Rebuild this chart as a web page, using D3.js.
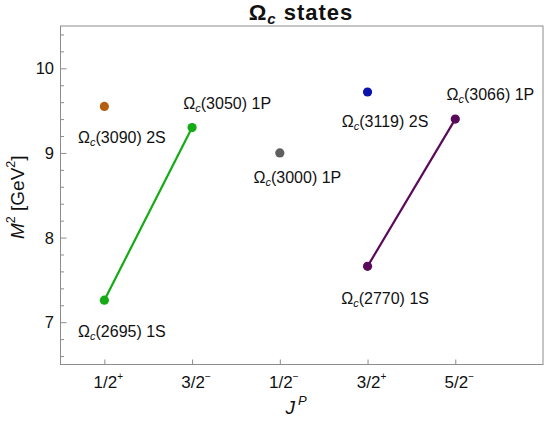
<!DOCTYPE html>
<html><head><meta charset="utf-8">
<script src="https://cdn.jsdelivr.net/npm/d3@7"></script>
<style>body{margin:0;background:#fff}svg{display:block}text{font-family:"Liberation Sans",Arial,sans-serif}</style>
</head><body><svg id="c" width="545" height="422"></svg>
<script>
// categories and tick labels
const jpCats = ["1/2", "3/2", "1/2", "3/2", "5/2"];
const jpSigns = ["+", "−", "−", "+", "−"];
const yTicks = [7, 8, 9, 10];
// states
const stateNames = ["3090", "3050", "2695", "3000", "3119", "3066", "2770"];
const stateWaves = ["2S", "1P", "1S", "1P", "2S", "1P", "1S"];
const stateX = [1, 2, 1, 3, 4, 5, 4];
const stateM2 = [9.55, 9.30, 7.26, 9.00, 9.72, 9.40, 7.66];
const stateColors = ["#b35e10", "#14ab14", "#14ab14", "#5f5f5f", "#0a12aa", "#5a0a5a", "#5a0a5a"];
// label anchors (data coordinates)
const labelX = [1.2, 2.4, 1.2, 3.2, 4.2, 5.4, 4.2];
const labelY = [9.19, 9.59, 6.89, 8.71, 9.37, 9.69, 7.28];
// trajectories (index pairs of states)
const trajectories = [[2, 1], [6, 5]];

const svg = d3.select("#c");
const L = 60.5, R = 543, T = 26, B = 364.5;
const x = d3.scaleLinear().domain([0.5, 6]).range([L, R]);
const y = d3.scaleLinear().domain([6.5, 10.5]).range([B, T]);
const axisCol = "#8c8c8c";

// frame
svg.append("rect").attr("x", L).attr("y", T).attr("width", R - L).attr("height", B - T)
  .attr("fill", "none").attr("stroke", axisCol).attr("stroke-width", 1);

// y axis ticks (inside)
const yMinor = d3.range(6.6, 10.45, 0.2).filter(v => Math.abs(v - Math.round(v)) > 0.01);
const gy = svg.append("g").attr("transform", `translate(${L},0)`);
gy.call(d3.axisRight(y).tickValues(yTicks).tickSize(6).tickFormat(""));
gy.append("g").call(d3.axisRight(y).tickValues(yMinor).tickSize(3.5).tickFormat(""));
gy.selectAll(".domain").remove();
gy.selectAll("line").attr("stroke", axisCol);
gy.selectAll(".ylab").data(yTicks).enter().append("text")
  .attr("x", -6.5).attr("y", d => y(d)).attr("dy", "0.36em")
  .attr("text-anchor", "end").attr("font-size", 16.5).attr("fill", "#111").text(d => d);

// x axis ticks (inside)
const gx = svg.append("g").attr("transform", `translate(0,${B})`);
gx.call(d3.axisTop(x).tickValues(d3.range(1, 6)).tickSize(5).tickFormat(""));
gx.selectAll(".domain").remove();
gx.selectAll("line").attr("stroke", axisCol);
const xl = gx.selectAll(".xlab").data(jpCats).enter().append("text")
  .attr("x", (d, i) => x(i + 1) + 4).attr("y", 23.5)
  .attr("text-anchor", "middle").attr("font-size", 17).attr("fill", "#111");
xl.append("tspan").text(d => d);
xl.append("tspan").attr("dy", -8).attr("font-size", 10).text((d, i) => jpSigns[i]);

// axis titles
const xt = svg.append("text").attr("x", 296).attr("y", 414).attr("font-size", 19).attr("text-anchor", "middle").attr("fill", "#111");
xt.append("tspan").attr("font-style", "italic").text("J");
xt.append("tspan").attr("font-style", "italic").attr("font-size", 13).attr("dy", -9).attr("dx", 3).text("P");

const yt = svg.append("text").attr("transform", `translate(24,${(T + B) / 2 + 2}) rotate(-90)`)
  .attr("font-size", 19).attr("text-anchor", "middle").attr("fill", "#111");
yt.append("tspan").attr("font-style", "italic").text("M");
yt.append("tspan").attr("font-size", 12.5).attr("dy", -9).text("2");
yt.append("tspan").attr("dy", 9).text(" [GeV");
yt.append("tspan").attr("font-size", 12.5).attr("dy", -9).text("2");
yt.append("tspan").attr("dy", 9).text("]");

// title
const tt = svg.append("text").attr("x", 301).attr("y", 20).attr("text-anchor", "middle")
  .attr("font-size", 22).attr("font-weight", "bold").attr("letter-spacing", 1).attr("fill", "#111");
tt.append("tspan").text("Ω");
tt.append("tspan").attr("font-size", 15).attr("font-style", "italic").attr("dy", 4).text("c");
tt.append("tspan").attr("dy", -4).text(" states");

// trajectories
svg.selectAll(".traj").data(trajectories).enter().append("line")
  .attr("x1", d => x(stateX[d[0]])).attr("y1", d => y(stateM2[d[0]]))
  .attr("x2", d => x(stateX[d[1]])).attr("y2", d => y(stateM2[d[1]]))
  .attr("stroke", d => stateColors[d[0]]).attr("stroke-width", 2.2);

// points
svg.selectAll(".pt").data(stateM2).enter().append("circle")
  .attr("cx", (d, i) => x(stateX[i])).attr("cy", d => y(d)).attr("r", 4.6)
  .attr("fill", (d, i) => stateColors[i]);

// labels
const lb = svg.selectAll(".lb").data(stateNames).enter().append("text")
  .attr("x", (d, i) => x(labelX[i])).attr("y", (d, i) => y(labelY[i])).attr("dy", "0.36em")
  .attr("text-anchor", "middle").attr("font-size", 16).attr("fill", "#111");
lb.append("tspan").text("Ω");
lb.append("tspan").attr("font-size", 11).attr("font-style", "italic").attr("dy", 3).text("c");
lb.append("tspan").attr("dy", -3).text((d, i) => `(${d}) ${stateWaves[i]}`);
</script></body></html>
